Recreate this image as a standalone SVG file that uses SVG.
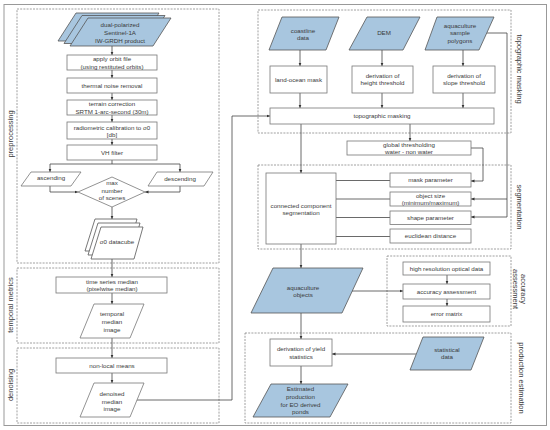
<svg xmlns="http://www.w3.org/2000/svg" width="550" height="430" viewBox="0 0 550 430">
<defs>
<style>
text{font-family:"Liberation Sans",Arial,sans-serif;font-size:6.2px;fill:#3a3a3a;text-anchor:middle}
.side{font-size:7.5px;dominant-baseline:central}
.box{fill:#fff;stroke:#777;stroke-width:0.8}
.data{fill:#a8c6df;stroke:#555;stroke-width:0.8}
.page{fill:#fff;stroke:#555;stroke-width:0.8}
.group{fill:none;stroke:#888;stroke-width:0.8;stroke-dasharray:2 1.2}
.con{fill:none;stroke:#444;stroke-width:0.8}
.arr{marker-end:url(#ah)}
</style>
<marker id="ah" viewBox="0 0 6 6" refX="6" refY="3" markerWidth="3.5" markerHeight="3.5" orient="auto" markerUnits="userSpaceOnUse"><path d="M0,0.4 L6,3 L0,5.6z" fill="#333"/></marker>
</defs>
<rect x="4" y="4.5" width="542.5" height="421" fill="#fff" stroke="#999" stroke-width="1"/>

<g id="groups">
<rect class="group" x="17" y="9" width="202" height="254"/>
<rect class="group" x="17" y="268" width="202" height="75"/>
<rect class="group" x="17" y="348" width="202" height="75"/>
<rect class="group" x="258" y="10" width="253" height="123"/>
<rect class="group" x="258" y="165" width="253" height="84"/>
<rect class="group" x="387" y="256" width="124" height="70"/>
<rect class="group" x="245" y="333" width="266" height="90"/>
<text class="side" transform="translate(10,134) rotate(-90)">preprocessing</text>
<text class="side" transform="translate(10,305) rotate(-90)">temporal metrics</text>
<text class="side" transform="translate(10,385) rotate(-90)">denoising</text>
<text class="side" transform="translate(519,69) rotate(90)">topographic masking</text>
<text class="side" transform="translate(519,207) rotate(90)">segmentation</text>
<text class="side" transform="translate(523,289) rotate(90)">accuracy</text>
<text class="side" transform="translate(515,289) rotate(90)">assessment</text>
<text class="side" transform="translate(521,378) rotate(90)">production estimation</text>
</g>

<g id="connectors">
<line class="con arr" x1="112" y1="46" x2="112" y2="55"/>
<line class="con arr" x1="112" y1="70" x2="112" y2="78"/>
<line class="con arr" x1="112" y1="93" x2="112" y2="100"/>
<line class="con arr" x1="112" y1="115" x2="112" y2="122"/>
<line class="con arr" x1="112" y1="139" x2="112" y2="145"/>
<polyline class="con" points="112,160 112,164"/>
<polyline class="con arr" points="112,164 50,164 50,172"/>
<polyline class="con arr" points="112,164 180,164 180,172"/>
<polyline class="con arr" points="50,186 50,192 78,192"/>
<polyline class="con arr" points="180,186 180,192 145,192"/>
<line class="con arr" x1="112" y1="207" x2="112" y2="219"/>
<line class="con arr" x1="112" y1="259" x2="112" y2="277"/>
<line class="con arr" x1="112" y1="293" x2="112" y2="304"/>
<line class="con arr" x1="112" y1="338" x2="112" y2="358"/>
<line class="con arr" x1="112" y1="373" x2="112" y2="383"/>
<polyline class="con arr" points="136,400 232,400 232,116 270,116"/>
<line class="con arr" x1="300" y1="50" x2="300" y2="66"/>
<line class="con arr" x1="382" y1="50" x2="382" y2="66"/>
<line class="con arr" x1="463" y1="50" x2="463" y2="66"/>
<line class="con arr" x1="300" y1="93" x2="300" y2="108"/>
<line class="con arr" x1="382" y1="93" x2="382" y2="108"/>
<line class="con arr" x1="463" y1="93" x2="463" y2="108"/>
<line class="con arr" x1="301" y1="124" x2="301" y2="173"/>
<line class="con arr" x1="410" y1="124" x2="410" y2="141"/>
<polyline class="con arr" points="471,148 483,148 483,181 471,181"/>
<polyline class="con" points="487,33 507,33 507,217"/>
<line class="con arr" x1="507" y1="199" x2="471" y2="199"/>
<line class="con arr" x1="507" y1="217" x2="471" y2="217"/>
<line class="con" x1="336" y1="180.5" x2="390" y2="180.5"/>
<line class="con" x1="336" y1="199" x2="390" y2="199"/>
<line class="con" x1="336" y1="217.5" x2="390" y2="217.5"/>
<line class="con" x1="336" y1="236.5" x2="390" y2="236.5"/>
<line class="con arr" x1="301" y1="244" x2="301" y2="268"/>
<line class="con arr" x1="352" y1="291" x2="403" y2="291"/>
<line class="con arr" x1="447" y1="275" x2="447" y2="284"/>
<line class="con arr" x1="447" y1="299" x2="447" y2="306"/>
<line class="con arr" x1="301" y1="313" x2="301" y2="339"/>
<line class="con arr" x1="416" y1="354" x2="332" y2="354"/>
<line class="con arr" x1="301" y1="366" x2="301" y2="384"/>
</g>

<g id="sentinel">
<polygon class="data" points="76,13 159,13 141,41 58,41"/>
<polygon class="data" points="82,15.5 165,15.5 147,43.5 64,43.5"/>
<polygon class="data" points="88,18 171,18 153,46 70,46"/>
<text x="120" y="27.2">dual-polarized</text>
<text x="120" y="35.2">Sentinel-1A</text>
<text x="120" y="43.2">IW-GRDH product</text>
</g>
<g id="orbit"><rect class="box" x="67" y="55" width="90" height="15"/><text x="112" y="61.2">apply orbit file</text><text x="112" y="68.6">(using restituted orbits)</text></g>
<g id="thermal"><rect class="box" x="67" y="78" width="90" height="15"/><text x="112" y="87.7">thermal noise removal</text></g>
<g id="terrain"><rect class="box" x="67" y="100" width="90" height="15"/><text x="112" y="106.2">terrain correction</text><text x="112" y="113.6">SRTM 1-arc-second (30m)</text></g>
<g id="radiometric"><rect class="box" x="67" y="122" width="90" height="17"/><text x="112" y="129.8">radiometric calibration to σ0</text><text x="112" y="137">[db]</text></g>
<g id="vh"><rect class="box" x="67" y="145" width="90" height="15"/><text x="112" y="154.7">VH filter</text></g>
<g id="ascending"><polygon class="box" points="31,172 81,172 71,186 21,186"/><text x="51" y="180.2">ascending</text></g>
<g id="descending"><polygon class="box" points="157,172 213,172 204,186 148,186"/><text x="180" y="181">descending</text></g>
<g id="maxscenes"><polygon class="box" points="112,177 145,192 112,207 78,192"/><text x="112" y="185">max</text><text x="112" y="192.5">number</text><text x="112" y="200.2">of scenes</text></g>
<g id="datacube">
<polygon class="page" points="95,219 137,219 128,251 85,251"/>
<polygon class="page" points="98,223 140,223 131,255 88,255"/>
<polygon class="page" points="101,227 143,227 134,259 91,259"/>
<text x="117" y="244.2">σ0 datacube</text>
</g>
<g id="tsmedian"><rect class="box" x="56" y="277" width="111" height="16"/><text x="112" y="283.8">time series median</text><text x="112" y="291.3">(pixelwise median)</text></g>
<g id="temporalimg"><polygon class="box" points="94,304 144,304 130,338 80,338"/><text x="112" y="316.2">temporal</text><text x="112" y="324">median</text><text x="112" y="332">image</text></g>
<g id="nlm"><rect class="box" x="56" y="358" width="111" height="15"/><text x="112" y="367.7">non-local means</text></g>
<g id="denoised"><polygon class="box" points="94,383 144,383 130,417 80,417"/><text x="112" y="396.2">denoised</text><text x="112" y="403.7">median</text><text x="112" y="411.2">image</text></g>

<g id="coastline"><polygon class="data" points="282,17 339,17 326,50 269,50"/><text x="303" y="33.2">coastline</text><text x="303" y="40.4">data</text></g>
<g id="dem"><polygon class="data" points="367,17 420,17 403,50 349,50"/><text x="384" y="35.2">DEM</text></g>
<g id="samples"><polygon class="data" points="437,17 494,17 479,50 425,50"/><text x="460" y="28.2">aquaculture</text><text x="460" y="35.4">sample</text><text x="460" y="43">polygons</text></g>
<g id="landocean"><rect class="box" x="270" y="66" width="57" height="27"/><text x="298.5" y="81.7">land-ocean mask</text></g>
<g id="height"><rect class="box" x="352" y="66" width="61" height="27"/><text x="382.5" y="78.2">derivation of</text><text x="382.5" y="85.4">height threshold</text></g>
<g id="slope"><rect class="box" x="433" y="66" width="62" height="27"/><text x="464" y="78.2">derivation of</text><text x="464" y="85.4">slope threshold</text></g>
<g id="topomask"><rect class="box" x="270" y="108" width="224" height="16"/><text x="382" y="118.2">topographic masking</text></g>
<g id="global"><rect class="box" x="347" y="141" width="124" height="14"/><text x="409" y="147.2">global thresholding</text><text x="409" y="154">water - non water</text></g>
<g id="ccs"><rect class="box" x="266" y="173" width="70" height="71"/><text x="301" y="208">connected component</text><text x="301" y="215.4">segmentation</text></g>
<g id="maskparam"><rect class="box" x="390" y="173" width="81" height="14"/><text x="430.5" y="182.2">mask parameter</text></g>
<g id="objsize"><rect class="box" x="390" y="192" width="81" height="14"/><text x="430.5" y="198.2">object size</text><text x="430.5" y="205">(minimum/maximum)</text></g>
<g id="shape"><rect class="box" x="390" y="211" width="81" height="13.5"/><text x="430.5" y="219.9">shape parameter</text></g>
<g id="euclid"><rect class="box" x="390" y="229" width="81" height="14"/><text x="430.5" y="238.3">euclidean distance</text></g>
<g id="objects"><polygon class="data" points="273,268 363,268 342,313 251,313"/><text x="303" y="290.4">aquaculture</text><text x="303" y="297">objects</text></g>
<g id="highres"><rect class="box" x="403" y="262" width="87" height="13"/><text x="446.5" y="270.8">high resolution optical data</text></g>
<g id="accuracy"><rect class="box" x="403" y="284" width="87" height="15"/><text x="446.5" y="293.7">accuracy assessment</text></g>
<g id="errmatrix"><rect class="box" x="403" y="306" width="87" height="16"/><text x="446.5" y="316.2">error matrix</text></g>
<g id="yield"><rect class="box" x="270" y="339" width="62" height="27"/><text x="301" y="351.2">derivation of yield</text><text x="301" y="359">statistics</text></g>
<g id="statistical"><polygon class="data" points="423,337 484,337 471,370 410,370"/><text x="447" y="352.2">statistical</text><text x="447" y="359.4">data</text></g>
<g id="estimated"><polygon class="data" points="271,384 348,384 330,417 253,417"/><text x="300.5" y="391.2">Estimated</text><text x="300.5" y="399">production</text><text x="300.5" y="406.8">for EO derived</text><text x="300.5" y="414.4">ponds</text></g>
</svg>
